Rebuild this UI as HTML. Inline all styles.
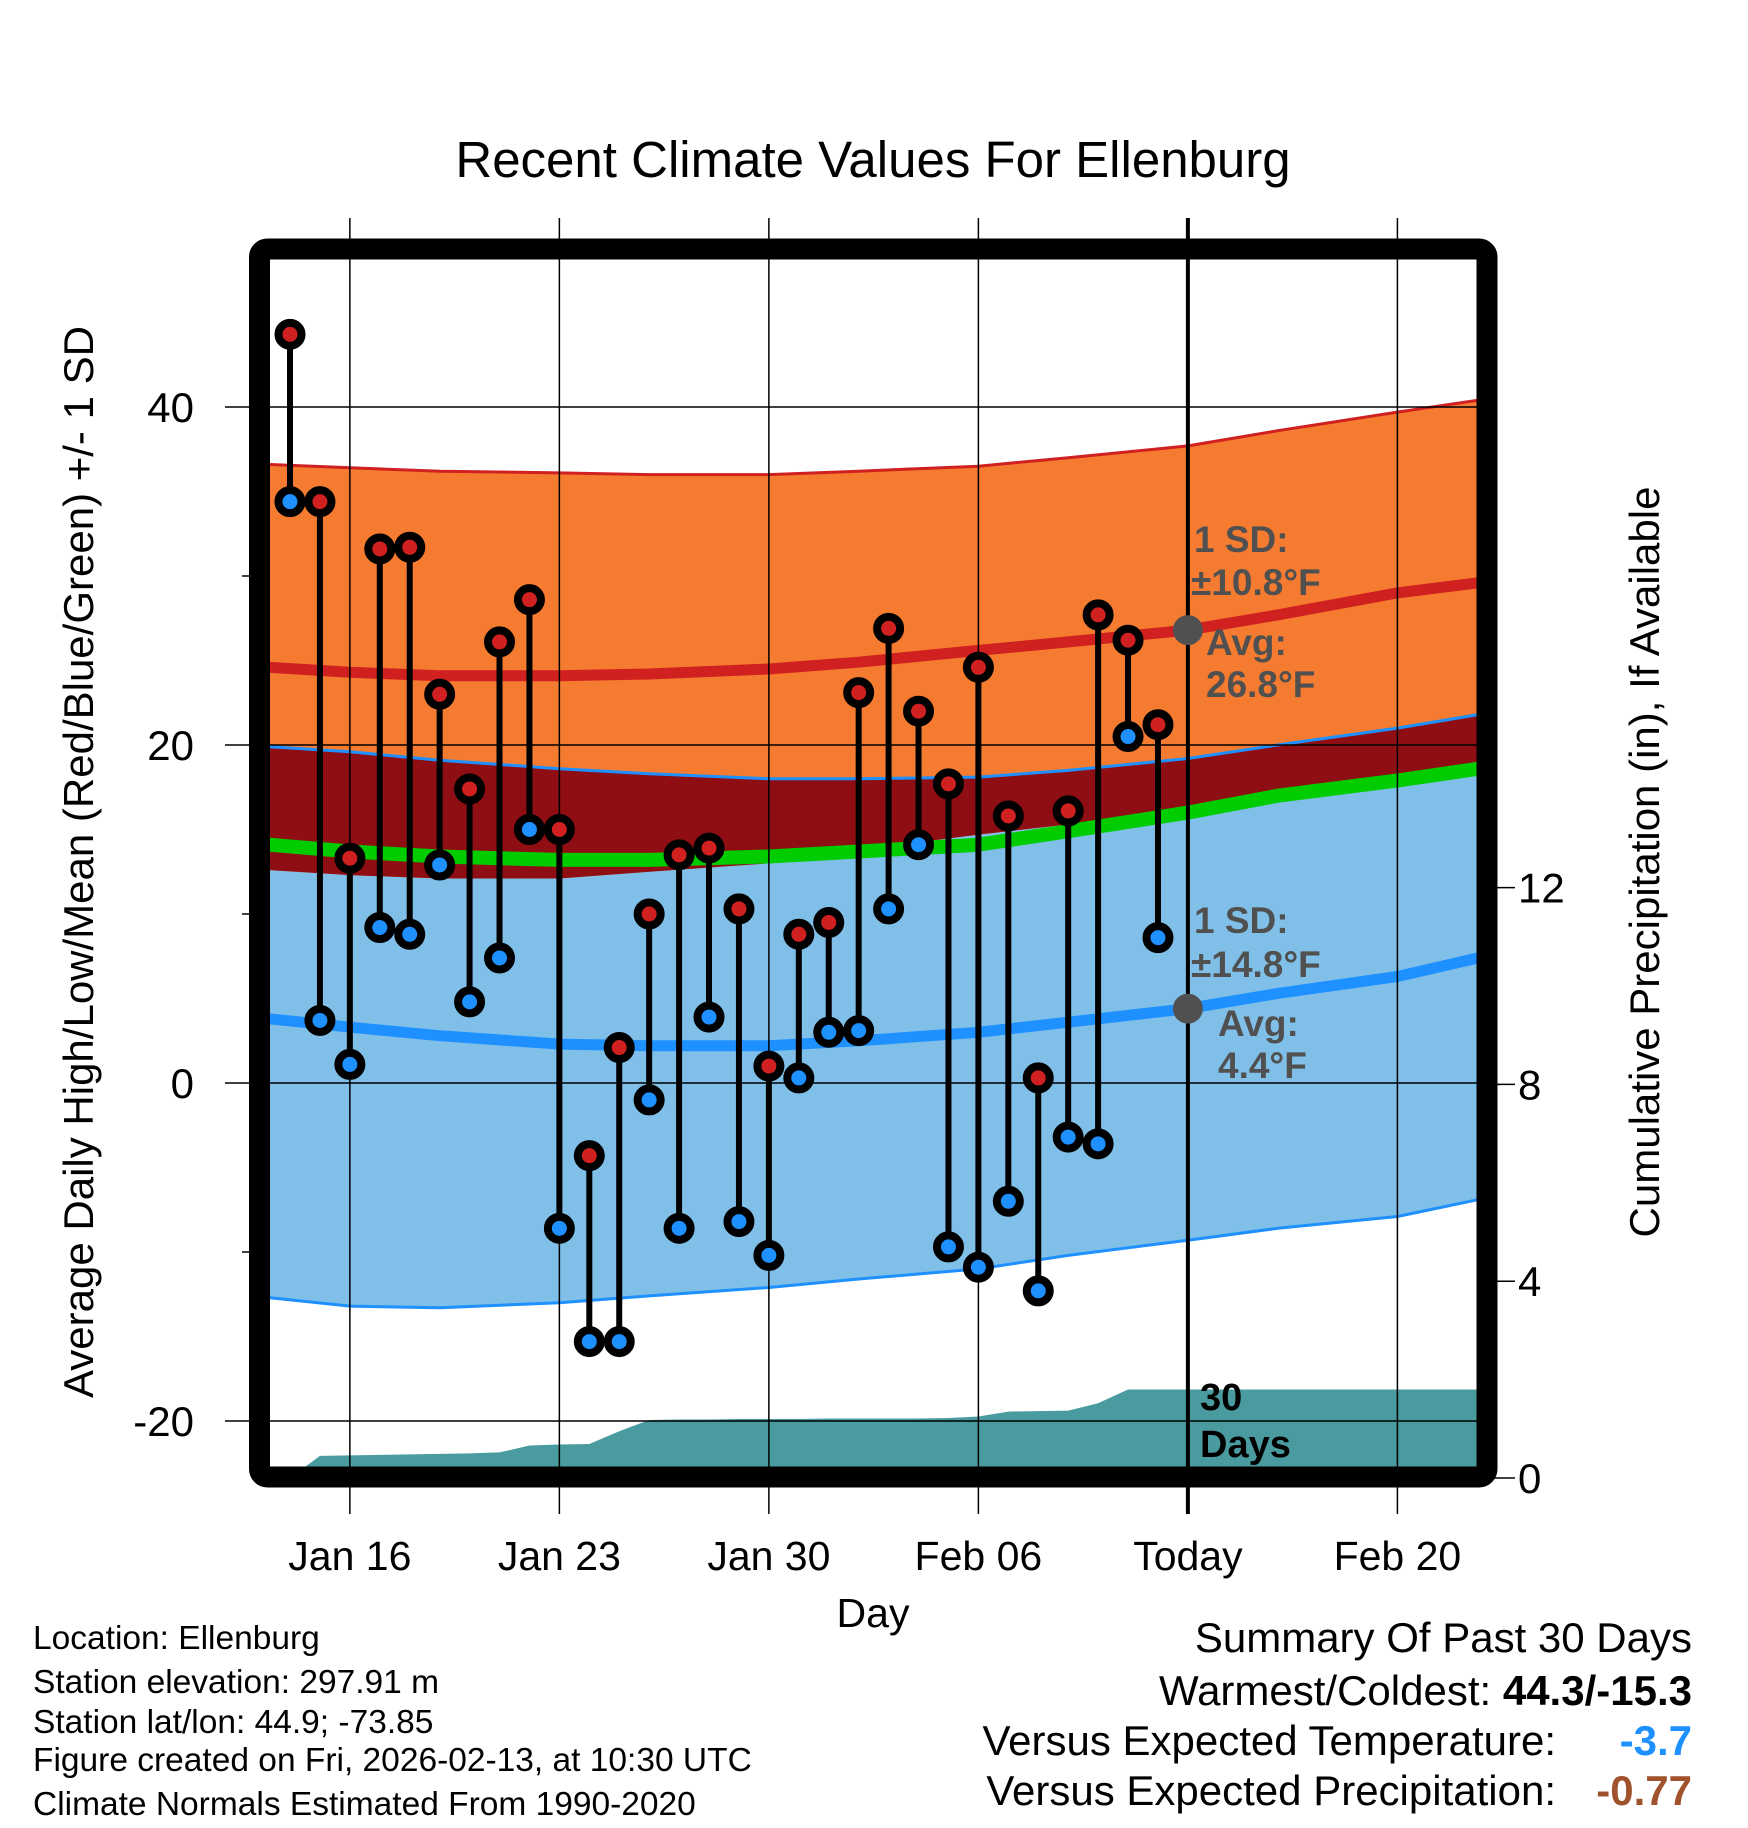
<!DOCTYPE html>
<html><head><meta charset="utf-8"><style>
body{margin:0;background:#fff}
svg{display:block;font-family:"Liberation Sans",Arial,sans-serif}
</style></head><body>
<svg id="c" width="1748" height="1828" viewBox="0 0 1748 1828" xmlns="http://www.w3.org/2000/svg">
<defs><clipPath id="pc"><rect x="270" y="259" width="1207" height="1208"/></clipPath></defs>
<g id="bands" clip-path="url(#pc)"></g>
<g id="grid"></g>
<g id="marks"></g>
<g id="labels"></g>
<rect x="259.5" y="249" width="1227.5" height="1228" rx="8" fill="none" stroke="#000" stroke-width="21"/>
<text x="873" y="177" font-size="51" text-anchor="middle">Recent Climate Values For Ellenburg</text>
<text x="873" y="1627" font-size="41" text-anchor="middle">Day</text>
<text transform="translate(93,862) rotate(-90)" font-size="42" text-anchor="middle">Average Daily High/Low/Mean (Red/Blue/Green) +/- 1 SD</text>
<text transform="translate(1659,862) rotate(-90)" font-size="42" text-anchor="middle">Cumulative Precipitation (in), If Available</text>
<g font-weight="bold" font-size="37" fill="#505050">
<text x="1194" y="552">1 SD:</text><text x="1191" y="595">±10.8°F</text>
<text x="1206" y="655">Avg:</text><text x="1206" y="697">26.8°F</text>
<text x="1194" y="933">1 SD:</text><text x="1191" y="977">±14.8°F</text>
<text x="1218" y="1036">Avg:</text><text x="1218" y="1078">4.4°F</text>
</g>
<g font-weight="bold" font-size="38"><text x="1200" y="1410">30</text><text x="1200" y="1457">Days</text></g>
<g font-size="33.5">
<text x="33" y="1649">Location: Ellenburg</text>
<text x="33" y="1693">Station elevation: 297.91 m</text>
<text x="33" y="1733">Station lat/lon: 44.9; -73.85</text>
<text x="33" y="1771">Figure created on Fri, 2026-02-13, at 10:30 UTC</text>
<text x="33" y="1815">Climate Normals Estimated From 1990-2020</text>
</g>
<g font-size="42" text-anchor="end">
<text x="1692" y="1652">Summary Of Past 30 Days</text>
<text x="1692" y="1705">Warmest/Coldest: <tspan font-weight="bold">44.3/-15.3</tspan></text>
<text x="1556" y="1755">Versus Expected Temperature:</text>
<text x="1692" y="1755" font-weight="bold" fill="#1e90ff">-3.7</text>
<text x="1556" y="1805">Versus Expected Precipitation:</text>
<text x="1692" y="1805" font-weight="bold" fill="#a0522d">-0.77</text>
</g>
</svg>
<script>
const highs=[44.3,34.4,13.3,31.6,31.7,23.0,17.4,26.1,28.6,15.0,-4.3,2.1,10.0,13.5,13.9,10.3,1.0,8.8,9.5,23.1,26.9,22.0,17.7,24.6,15.8,0.3,16.1,27.7,26.2,21.2];
const lows=[34.4,3.7,1.1,9.2,8.8,12.9,4.8,7.4,15.0,-8.6,-15.3,-15.3,-1.0,-8.6,3.9,-8.2,-10.2,0.3,3.0,3.1,10.3,14.1,-9.7,-10.9,-7.0,-12.3,-3.2,-3.6,20.5,8.6];
const precip=[0.0,0.45,0.46,0.47,0.48,0.49,0.5,0.52,0.66,0.68,0.69,0.95,1.18,1.19,1.19,1.2,1.2,1.2,1.21,1.21,1.21,1.21,1.22,1.25,1.35,1.36,1.37,1.52,1.8,1.8,1.8];
const normDays=[-0.7,2,5,9,12,16,19,23,26,30,33,37,39.7];
const hiAvg=[24.6,24.3,24.1,24.1,24.2,24.5,24.9,25.6,26.1,26.8,27.7,29.0,29.6];
const hiUpper=[36.6,36.4,36.2,36.1,36.0,36.0,36.2,36.5,37.0,37.7,38.6,39.7,40.4];
const hiLower=[12.6,12.3,12.1,12.1,12.5,13.0,13.8,14.7,15.3,16.0,17.0,18.3,18.8];
const loAvg=[3.8,3.3,2.8,2.3,2.2,2.2,2.5,3.0,3.6,4.4,5.3,6.3,7.4];
const loUpper=[19.9,19.6,19.1,18.6,18.3,18.0,18.0,18.1,18.5,19.2,20.0,21.0,21.8];
const loLower=[-12.7,-13.2,-13.3,-13.0,-12.6,-12.1,-11.6,-11.0,-10.2,-9.3,-8.6,-7.9,-6.9];
const meanAvg=[14.1,13.7,13.4,13.2,13.2,13.4,13.7,14.1,14.9,16.0,17.0,17.9,18.6];
const dayTicks=[2,9,16,23,30,37];
const dayTickLabels=["Jan 16","Jan 23","Jan 30","Feb 06","Today","Feb 20"];
const tempTicks=[40,20,0,-20];
const tempMinor=[30,10,-10];
const precipTicks=[0,4,8,12];

const X=d=>290+29.93*d;
const Y=v=>1083-16.9*v;
const P=p=>1478-49.2*p;
const NS='http://www.w3.org/2000/svg';
function mk(tag,attrs,parent){const e=document.createElementNS(NS,tag);for(const k in attrs)e.setAttribute(k,attrs[k]);parent.appendChild(e);return e;}
function curve(ys){return normDays.map((d,i)=>X(d).toFixed(1)+','+Y(ys[i]).toFixed(1));}
function band(up,lo){return curve(up).concat(curve(lo).reverse()).join(' ');}
const B=document.getElementById('bands'),G=document.getElementById('grid'),M=document.getElementById('marks'),L=document.getElementById('labels');

let e;
e=mk('polygon',{points:band(loUpper,loLower),fill:'#80c0e8'},B);


e=mk('polygon',{points:band(hiUpper,hiLower),fill:'#f47b30'},B);


const ovUp=normDays.map((d,i)=>Math.min(hiUpper[i],loUpper[i]));
e=mk('polygon',{points:band(ovUp,hiLower),fill:'#8e0e14'},B);


const pp=[X(0)+','+P(0)];precip.forEach((p,i)=>pp.push(X(i)+','+P(p)));
pp.push(X(39.7)+','+P(precip[precip.length-1]));pp.push(X(39.7)+','+P(0));
e=mk('polygon',{points:pp.join(' '),fill:'#4a9ba0'},B);


function line(ys,col,w,name){const el=mk('polyline',{points:curve(ys).join(' '),fill:'none',stroke:col,'stroke-width':w,'stroke-linejoin':'round'},B);}
line(hiUpper,'#d02020',3,'high-upper-line');
line(loUpper,'#1e90ff',3,'low-upper-line');
line(loLower,'#1e90ff',3,'low-lower-line');
line(hiAvg,'#d02020',11,'high-avg-line');
line(meanAvg,'#00cc00',14,'mean-avg-line');
line(loAvg,'#1e90ff',11,'low-avg-line');

dayTicks.forEach((d,i)=>{
 const g=mk('line',{x1:X(d),x2:X(d),y1:218,y2:1514,stroke:'#000','stroke-width':d===30?4:1.5},G);
 
 
 const t=mk('text',{x:X(d),y:1570,'font-size':41,'text-anchor':'middle'},L);t.textContent=dayTickLabels[i];
 
 
});
tempTicks.forEach(v=>{
 const g=mk('line',{x1:225,x2:1487,y1:Y(v),y2:Y(v),stroke:'#000','stroke-width':1.5},G);
 
 
 const t=mk('text',{x:194,y:Y(v)+15,'font-size':42,'text-anchor':'end'},L);t.textContent=v;
 
 
});
tempMinor.forEach(v=>{
 const g=mk('line',{x1:242,x2:252,y1:Y(v),y2:Y(v),stroke:'#000','stroke-width':1.5},G);
 
 
});
precipTicks.forEach(p=>{
 const g=mk('line',{x1:1490,x2:1515,y1:P(p),y2:P(p),stroke:'#000','stroke-width':1.5},G);
 
 
 const t=mk('text',{x:1518,y:P(p)+15,'font-size':42},L);t.textContent=p;
 
 
});

highs.forEach((h,i)=>{
 const s=mk('line',{x1:X(i),x2:X(i),y1:Y(h),y2:Y(lows[i]),stroke:'#000','stroke-width':6},M);
 
 
});
highs.forEach((h,i)=>{
 const a=mk('circle',{cx:X(i),cy:Y(h),r:11.5,fill:'#d02020',stroke:'#000','stroke-width':8},M);
 
 
 const b=mk('circle',{cx:X(i),cy:Y(lows[i]),r:11.5,fill:'#1e90ff',stroke:'#000','stroke-width':8},M);
 
 
});
[hiAvg,loAvg].forEach(arr=>{
 const c=mk('circle',{cx:X(30),cy:Y(arr[9]),r:15,fill:'#505050'},M);
 
 
});
</script>
</body></html>
